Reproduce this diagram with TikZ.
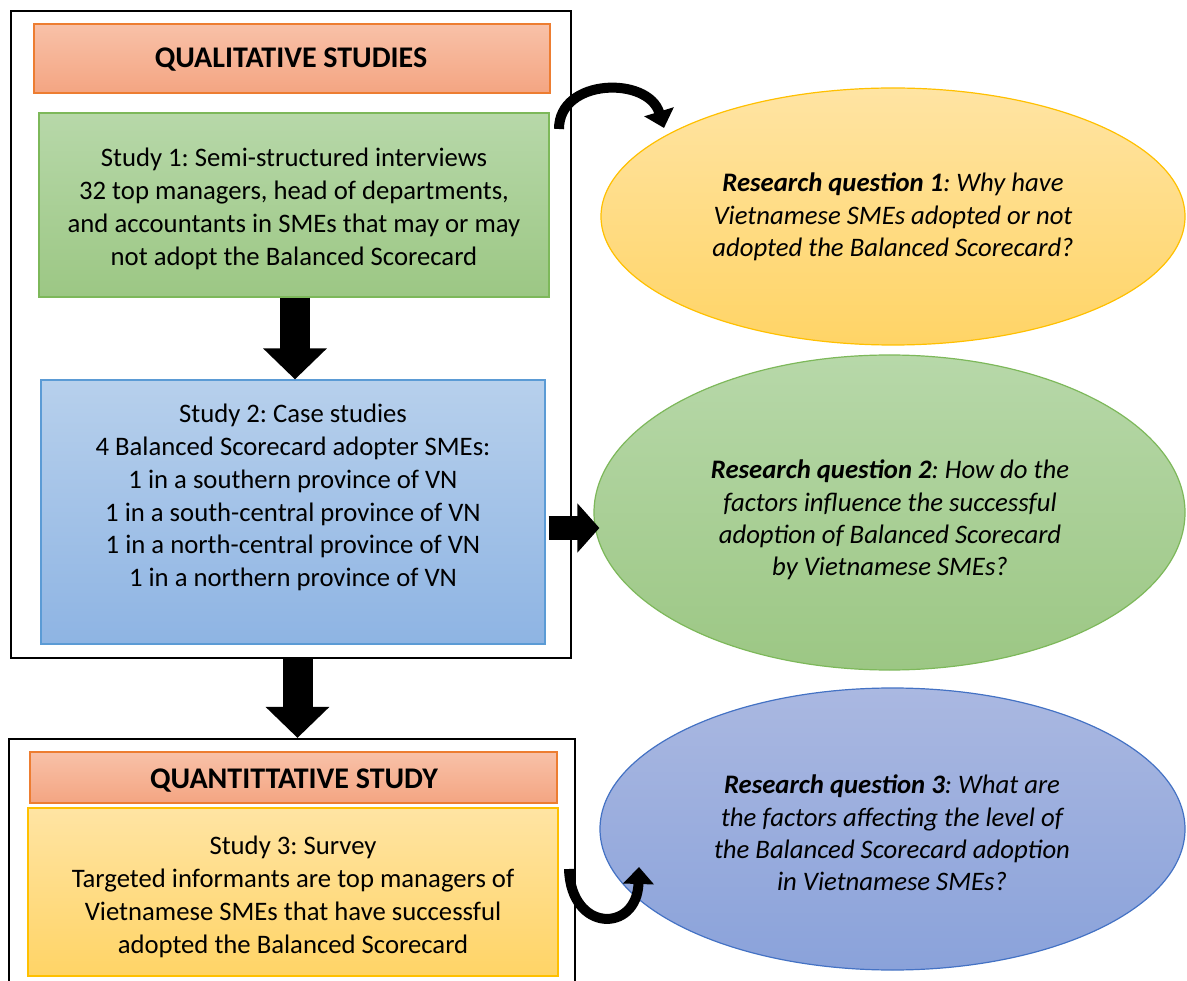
\documentclass[tikz,border=0pt]{standalone}
\usepackage{fontspec}
\setmainfont{Carlito}
\frenchspacing
\usetikzlibrary{shapes.geometric,arrows.meta,calc}
\definecolor{orangeline}{HTML}{ED7D31}
\definecolor{orangetop}{HTML}{F8C1A8}
\definecolor{orangebot}{HTML}{F4A582}
\definecolor{greenline}{HTML}{7DB85A}
\definecolor{greentop}{HTML}{B7D8A9}
\definecolor{greenbot}{HTML}{9CC784}
\definecolor{blueline}{HTML}{5B9BD5}
\definecolor{bluetop}{HTML}{B7D0EC}
\definecolor{bluebot}{HTML}{8EB4E3}
\definecolor{yellowline}{HTML}{FFC000}
\definecolor{yellowtop}{HTML}{FFE4A3}
\definecolor{yellowbot}{HTML}{FFD466}
\definecolor{navyline}{HTML}{4472C4}
\definecolor{navytop}{HTML}{AAB8E1}
\definecolor{navybot}{HTML}{8AA2DA}
\begin{document}
\begin{tikzpicture}[x=1pt,y=-1pt,
  txt/.style={font=\fontsize{26.7}{32.8}\selectfont\frenchspacing, align=center, text=black, inner sep=0pt},
  head/.style={font=\fontsize{30}{34}\selectfont\bfseries, text=black, inner sep=0pt},
  studybox/.style={draw, line width=1.2pt, inner sep=0pt, rectangle},
  outerframe/.style={draw=black, line width=2.2pt, inner sep=0pt, rectangle},
  orangebox/.style={studybox, draw=orangeline, top color=orangetop, bottom color=orangebot},
  greenbox/.style={studybox, draw=greenline, top color=greentop, bottom color=greenbot},
  bluebox/.style={studybox, draw=blueline, top color=bluetop, bottom color=bluebot},
  yellowbox/.style={studybox, draw=yellowline, top color=yellowtop, bottom color=yellowbot},
  rq/.style={ellipse, inner sep=0pt, line width=1.2pt},
  rqtext/.style={txt, font=\fontsize{26.7}{32.4}\selectfont\itshape\frenchspacing},
  blockarrow/.style={line width=30pt, -{Triangle[width=62pt,length=31pt]}, black},
  sidearrow/.style={line width=24pt, -{Triangle[width=48pt,length=22pt]}, black},
  curvearrow/.style={line width=10pt, -{Triangle[width=30pt,length=17pt]}, black},
]
\clip (0,0) rectangle (1187,981);
\fill[white] (0,0) rectangle (1187,981);

% outer frames
\node[outerframe, minimum width=560pt, minimum height=647pt] (outer1) at (291,334.5) {};
\node[outerframe, minimum width=566pt, minimum height=280pt] (outer2) at (292,879) {};

% qualitative part
\node[orangebox, minimum width=516pt, minimum height=69pt] (qual) at (292,58.5) {};
\node[head] (qualt) at (291,59.5) {QUALITATIVE STUDIES};
\node[greenbox, minimum width=510pt, minimum height=184pt] (s1) at (294,205) {};
\node[txt] (s1t) at (294,209)
  {Study 1: Semi-structured interviews\\32 top managers, head of departments,\\and accountants in SMEs that may or may\\not adopt the Balanced Scorecard};
\node[bluebox, minimum width=504pt, minimum height=264pt] (s2) at (293,512) {};
\node[txt] (s2t) at (293,497.5)
  {Study 2: Case studies\\4 Balanced Scorecard adopter SMEs:\\1 in a southern province of VN\\1 in a south-central province of VN\\1 in a north-central province of VN\\1 in a northern province of VN};

% quantitative part
\node[orangebox, minimum width=527pt, minimum height=51pt] (quant) at (293.5,777.5) {};
\node[head] (quantt) at (294,781) {QUANTITTATIVE STUDY};
\node[yellowbox, minimum width=530pt, minimum height=168pt] (s3) at (293,892) {};
\node[txt] (s3t) at (293,897)
  {Study 3: Survey\\Targeted informants are top managers of\\Vietnamese SMEs that have successful\\adopted the Balanced Scorecard};

% research questions
\node[rq, draw=yellowline, top color=yellowtop, bottom color=yellowbot, minimum width=584pt, minimum height=257pt] (e1) at (893,216.5) {};
\node[rqtext] (e1t) at (893,217)
  {\textbf{Research question 1}: Why have\\Vietnamese SMEs adopted or not\\adopted the Balanced Scorecard?};
\node[rq, draw=greenline, top color=greentop, bottom color=greenbot, minimum width=591pt, minimum height=315pt] (e2) at (889.5,512.5) {};
\node[rqtext] (e2t) at (890,520)
  {\textbf{Research question 2}: How do the\\factors influence the successful\\adoption of Balanced Scorecard\\by Vietnamese SMEs?};
\node[rq, draw=navyline, top color=navytop, bottom color=navybot, minimum width=585pt, minimum height=282pt] (e3) at (892.5,829) {};
\node[rqtext] (e3t) at (892,833)
  {\textbf{Research question 3}: What are\\the factors affecting the level of\\the Balanced Scorecard adoption\\in Vietnamese SMEs?};

% block arrows
\draw[blockarrow] (s1.south -| 295,0) -- (s2.north -| 295,0);
\draw[blockarrow] (outer1.south -| 297.5,0) -- (outer2.north -| 297.5,0);
\draw[sidearrow] ($(s2.east)+(3,16)$) -- ($(e2.west |- s2.east)+(6,16)$);

% curved arrows
\coordinate (c1s) at (559,129);
\coordinate (c1e) at (664,128);
\draw[curvearrow] (c1s) .. controls (559,78) and (648,76) .. (c1e);
\coordinate (c3s) at (569,869);
\coordinate (c3e) at (639,867);
\draw[curvearrow] (c3s) .. controls (571,933) and (637,933) .. (c3e);
\end{tikzpicture}
\end{document}
